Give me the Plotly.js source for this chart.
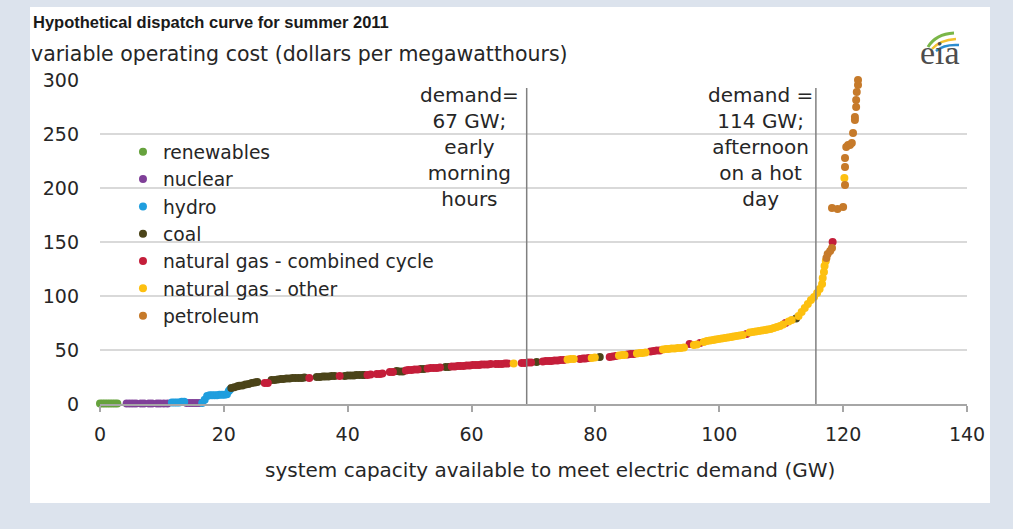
<!DOCTYPE html>
<html><head><meta charset="utf-8">
<script src="https://cdn.plot.ly/plotly-3.0.1.min.js"></script>
<style>
html,body{margin:0;padding:0;background:#dce3ed;width:1013px;height:529px;overflow:hidden}
#chart{position:absolute;left:30px;top:7px;width:960px;height:496px;background:#fff}
</style></head><body><div id="chart"></div>
<script>
const categories = ['renewables','nuclear','hydro','coal','natural gas - combined cycle','natural gas - other','petroleum'];

const renewablesX = [0,0.4,0.8,1.2,1.6,2.0,2.4,2.8];
const renewablesY = [0.5,0.5,0.5,0.5,0.5,0.5,0.5,0.5];

const nuclearX = [4.3,4.8,5.3,5.8,6.6,7.1,7.9,8.4,9.2,9.7,10.3,10.9,14.0,14.5,15.0,15.5,16.0];
const nuclearY = [0.5,0.5,0.5,0.5,0.5,0.5,0.5,0.5,0.5,0.5,0.5,0.5,1,1,1,1,1];

const hydroX = [11.6,12.0,12.4,12.8,13.2,13.6,16.5,16.9,17.3,17.7,18.1,18.5,18.9,19.3,19.7,20.1,20.5,20.8,21.0];
const hydroY = [1.5,1.5,1.5,1.5,2,2,1,4,7.5,8,8,8,8,8.5,8.5,8.5,9,12,13.5];

const coalX = [21.2,21.7,22.2,22.5,23.0,23.5,24.0,24.5,25.0,25.4,27.7,28.2,28.7,29.2,29.6,30.1,30.6,31.1,31.6,32.1,32.6,33.0,35.0,35.5,36.0,36.4,36.9,37.4,37.9,39.5,40.0,40.5,41.0,41.4,41.9,42.4,42.7,47.9,48.4,48.9,51.8,52.3,55.8,56.3,70.5,80.7,112.4];
const coalY = [14.8,15.5,16.4,16.8,17.1,18.1,18.5,19.4,19.9,20.4,22.2,22.2,22.7,23.1,23.1,23.6,23.6,24.1,24.1,24.1,24.1,24.5,25.0,25.0,25.5,25.5,25.5,25.9,25.9,25.9,26.4,26.4,26.4,26.9,26.9,26.9,26.9,30.6,30.1,30.1,32.4,32.4,34.3,34.3,38.9,43.5,79.2];

const gasCombinedX = [26.6,27.1,33.8,38.7,43.2,43.7,44.7,45.2,45.6,46.8,47.3,49.4,49.8,50.3,50.8,51.3,52.9,53.4,53.9,54.4,54.9,56.8,57.3,57.8,58.2,58.7,59.2,59.7,60.2,60.7,61.2,61.6,62.1,62.6,63.1,63.9,64.4,64.9,65.4,65.8,68.1,68.6,69.1,69.6,71.5,72.0,72.5,72.9,73.4,73.9,74.4,74.9,77.5,78.0,78.4,78.9,82.3,82.8,83.3,85.2,85.7,86.2,88.9,89.4,89.9,90.4,95.2,96.9,104.4,110.7,118.3];
const gasCombinedY = [19.4,19.4,24.1,25.9,26.9,27.3,27.8,27.8,28.2,29.6,29.6,31.0,31.5,31.5,31.9,31.9,32.9,33.3,33.3,33.3,33.8,34.7,34.7,35.2,35.2,35.2,35.6,35.6,36.1,36.1,36.1,36.6,36.6,36.6,37.0,37.0,37.0,37.0,37.5,37.5,38.0,38.0,38.4,38.4,39.4,39.8,39.8,39.8,40.3,40.3,40.7,40.7,41.7,42.1,42.1,42.6,43.5,44.0,44.4,45.8,46.3,46.3,48.6,49.1,49.5,49.5,55.6,56.5,64.8,75.0,150.0];

const gasOtherX = [66.8,75.5,76.0,76.5,79.4,79.9,83.8,84.3,84.7,86.7,87.2,87.6,88.1,90.9,91.4,91.8,92.3,92.8,93.3,93.8,94.3,95.9,96.4,97.5,98.0,98.5,99.0,99.4,99.9,100.4,100.9,101.4,101.9,102.3,102.8,103.3,103.8,104.9,105.4,105.9,106.4,106.9,107.4,107.8,108.3,108.8,109.3,109.8,110.3,111.2,111.7,112.8,113.3,113.8,114.3,114.8,115.3,115.8,116.2,116.6,116.7,116.9,117.0,117.2,120.2];
const gasOtherY = [37.5,41.2,41.7,41.7,42.6,43.1,44.9,45.4,45.4,46.8,47.2,47.2,47.7,50.5,50.9,50.9,51.4,51.4,51.9,51.9,52.3,54.6,55.1,57.4,58.3,58.8,59.3,59.7,60.2,60.6,61.1,61.6,62.0,62.5,63.0,63.4,63.9,66.2,66.7,67.1,67.6,68.1,68.5,69.0,69.4,70.4,71.3,72.2,73.6,76.4,77.8,81.5,85.2,88.9,92.6,96.3,99.1,102.8,106.5,111.1,116.7,122.2,127.8,132.4,209.3];

const petroleumX = [117.3,117.5,117.9,118.2,118.2,119.1,120.0,120.3,120.3,120.3,120.5,120.8,121.1,121.4,121.6,121.9,121.9,122.1,122.1,122.2,122.4,122.4];
const petroleumY = [135.2,138.9,141.7,144.4,181.5,180.6,182.4,202.8,219.4,227.8,238.0,239.8,239.8,241.7,250.9,263.0,265.7,275.0,281.5,288.9,295.4,300.0];

const xTicks = [0,20,40,60,80,100,120,140];
const yTicks = [0,50,100,150,200,250,300];
const demandGW = [68.9,115.6];
const demandLabels = ['demand=<br>67 GW;<br>early<br>morning<br>hours','demand =<br>114 GW;<br>afternoon<br>on a hot<br>day'];

const colors = ['#66a23d','#7f3f98','#1f9ede','#4b4419','#c41e3a','#fdc010','#c67a2a'];
const seriesX = [renewablesX,nuclearX,hydroX,coalX,gasCombinedX,gasOtherX,petroleumX];
const seriesY = [renewablesY,nuclearY,hydroY,coalY,gasCombinedY,gasOtherY,petroleumY];

const FONT = 'DejaVu Sans, Liberation Sans, sans-serif';
const TITLE_FONT = '"Liberation Sans", Arial, sans-serif';
const TXT = '#262626';

const traces = categories.map((name,i)=>({
  type:'scatter', mode:'markers', name:name,
  x:seriesX[i], y:seriesY[i],
  cliponaxis:false,
  marker:{color:colors[i], size:8, line:{width:0}},
  hoverinfo:'x+y+name'
}));

const shapes = demandGW.map(g=>({
  type:'line', xref:'x', yref:'y', x0:g, x1:g, y0:0, y1:292.6,
  line:{color:'#808080', width:1.5}, layer:'above'
}));
// eia logo swooshes
shapes.push(
  {type:'path', xref:'paper', yref:'paper', path:'M 0.9550,1.1019 Q 0.9640,1.1420 0.9850,1.1451', line:{color:'#7ab648',width:3}},
  {type:'path', xref:'paper', yref:'paper', path:'M 0.9596,1.0957 Q 0.9689,1.1235 0.9873,1.1265', line:{color:'#f2c12e',width:2.5}},
  {type:'path', xref:'paper', yref:'paper', path:'M 0.9642,1.0895 Q 0.9735,1.1111 0.9908,1.108', line:{color:'#2a8ccf',width:2.5}}
);

const annotations = [
  {text:'variable operating cost (dollars per megawatthours)', xref:'paper', yref:'paper', x:-0.0819, y:1.0802, xanchor:'left', yanchor:'middle', showarrow:false, font:{family:FONT,size:20.5,color:TXT}},
  {text:'system capacity available to meet electric demand (GW)', xref:'paper', yref:'paper', x:0.519, y:-0.204, xanchor:'center', yanchor:'middle', showarrow:false, font:{family:FONT,size:20,color:TXT}},
  {text:demandLabels[0], xref:'x', yref:'y', x:59.7, y:238, xanchor:'center', yanchor:'middle', showarrow:false, align:'center', font:{family:FONT,size:20,color:TXT}},
  {text:demandLabels[1], xref:'x', yref:'y', x:106.6, y:238, xanchor:'center', yanchor:'middle', showarrow:false, align:'center', font:{family:FONT,size:20,color:TXT}},
  {text:'eia', xref:'paper', yref:'paper', x:0.9689, y:1.0864, xanchor:'center', yanchor:'middle', showarrow:false, font:{family:'Liberation Serif, DejaVu Serif, serif', size:34, color:'#4d4d4d'}}
];

const layout = {
  width:960, height:496,
  margin:{l:70, r:23, t:73, b:99},
  paper_bgcolor:'#ffffff', plot_bgcolor:'#ffffff',
  font:{family:FONT, size:19, color:TXT},
  title:{
    text:'Hypothetical dispatch curve for summer 2011',
    font:{family:TITLE_FONT, size:16.5, weight:'bold', color:'#1a1a1a'},
    xref:'container', x:3/960, xanchor:'left',
    yref:'container', y:1-15/496, yanchor:'middle'
  },
  xaxis:{
    range:[0,140], tickvals:xTicks, ticktext:xTicks.map(String),
    showline:true, linecolor:'#a6a6a6', linewidth:1.5,
    ticks:'outside', ticklen:6, tickcolor:'#a6a6a6', tickwidth:1.5,
    showgrid:false, zeroline:false, ticklabelstandoff:6,
    tickfont:{family:FONT,size:19,color:TXT}
  },
  yaxis:{
    range:[0,300], tickvals:yTicks, ticktext:yTicks.map(String),
    showgrid:true, gridcolor:'#d9d9d9', gridwidth:1.5,
    zeroline:false, showline:false, ticks:'', ticklabelstandoff:20,
    tickfont:{family:FONT,size:19,color:TXT}
  },
  showlegend:true,
  legend:{x:0.0265, y:0.836, xanchor:'left', yanchor:'top', bgcolor:'rgba(0,0,0,0)', font:{family:FONT,size:18.7,color:TXT}},
  hovermode:false,
  shapes:shapes,
  annotations:annotations
};

Plotly.newPlot('chart', traces, layout, {displayModeBar:false});
</script></body></html>
